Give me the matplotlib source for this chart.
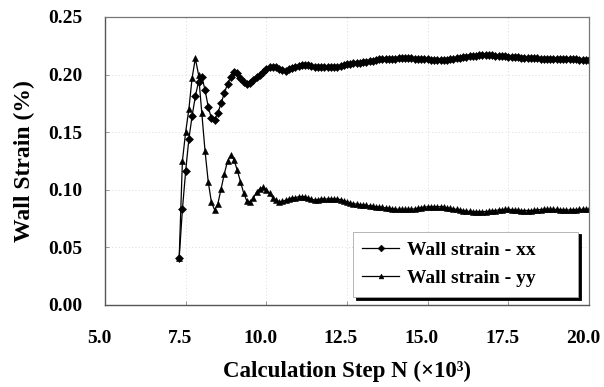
import numpy as np
import matplotlib
matplotlib.use("Agg")
import matplotlib.pyplot as plt
import matplotlib.transforms as mtransforms

# Calculation steps (thousands), one sample every 100 steps
steps = np.round(np.arange(7.3, 20.05, 0.1), 1)

strain_xx = [
    0.041, 0.083, 0.116, 0.144, 0.164, 0.181, 0.194, 0.198, 0.187, 0.172,   # 7.3 - 8.2
    0.162, 0.161, 0.167, 0.175, 0.184, 0.192, 0.198, 0.2025, 0.201, 0.197,  # 8.3 - 9.2
    0.194, 0.192, 0.1925, 0.195, 0.198, 0.200, 0.202, 0.205, 0.2068, 0.207, # 9.3 - 10.2
    0.2062, 0.205, 0.204, 0.2035, 0.2045, 0.206, 0.207, 0.2078, 0.2082, 0.2085,  # 10.3 - 11.2
    0.2083, 0.2078, 0.207, 0.2064, 0.2063, 0.2063, 0.2064, 0.2064, 0.2066, 0.207,  # 11.3 - 12.2
    0.2076, 0.2083, 0.209, 0.2094, 0.2098, 0.2101, 0.2104, 0.2108, 0.2112, 0.2117,  # 12.3 - 13.2
    0.2122, 0.2127, 0.2131, 0.2133, 0.2135, 0.2137, 0.2138, 0.2139, 0.214, 0.2141,  # 13.3 - 14.2
    0.2141, 0.2141, 0.214, 0.2138, 0.2137, 0.2135, 0.2134, 0.2132, 0.213, 0.2128,   # 14.3 - 15.2
    0.2127, 0.2127, 0.2128, 0.213, 0.2133, 0.2137, 0.214, 0.2145, 0.215, 0.2155,    # 15.3 - 16.2
    0.2159, 0.2162, 0.2165, 0.2168, 0.217, 0.217, 0.2169, 0.2167, 0.2165, 0.2163,   # 16.3 - 17.2
    0.2161, 0.2158, 0.2156, 0.2153, 0.2151, 0.215, 0.2148, 0.2146, 0.2144, 0.2142,  # 17.3 - 18.2
    0.2141, 0.214, 0.2139, 0.2138, 0.2137, 0.2136, 0.2135, 0.2135, 0.2134, 0.2134,  # 18.3 - 19.2
    0.2133, 0.2133, 0.2132, 0.2131, 0.213, 0.2129, 0.2128, 0.2128, 0.2127,          # 19.3 - 20.1
]

strain_yy = [
    0.041, 0.125, 0.150, 0.170, 0.197, 0.214, 0.200, 0.167, 0.134, 0.107,   # 7.3 - 8.2
    0.089, 0.0825, 0.088, 0.101, 0.114, 0.125, 0.130, 0.126, 0.117, 0.107,  # 8.3 - 9.2
    0.097, 0.090, 0.089, 0.093, 0.098, 0.101, 0.102, 0.100, 0.097, 0.093,   # 9.3 - 10.2
    0.091, 0.0895, 0.090, 0.091, 0.092, 0.093, 0.093, 0.094, 0.094, 0.094,  # 10.3 - 11.2
    0.093, 0.092, 0.091, 0.0915, 0.092, 0.092, 0.092, 0.092, 0.092, 0.092,  # 11.3 - 12.2
    0.0915, 0.0905, 0.0895, 0.0885, 0.088, 0.0875, 0.087, 0.087, 0.0865, 0.086,  # 12.3 - 13.2
    0.0858, 0.0853, 0.085, 0.0847, 0.0843, 0.084, 0.0836, 0.0833, 0.083, 0.083,  # 13.3 - 14.2
    0.083, 0.083, 0.083, 0.0835, 0.084, 0.0845, 0.085, 0.0852, 0.0853, 0.0853,   # 14.3 - 15.2
    0.0853, 0.0853, 0.085, 0.0845, 0.084, 0.0835, 0.083, 0.0825, 0.082, 0.0816,  # 15.3 - 16.2
    0.0813, 0.0811, 0.081, 0.081, 0.081, 0.0811, 0.0813, 0.0816, 0.082, 0.0825,  # 16.3 - 17.2
    0.0828, 0.083, 0.083, 0.0828, 0.0825, 0.0822, 0.082, 0.082, 0.082, 0.082,    # 17.3 - 18.2
    0.0822, 0.0825, 0.0828, 0.083, 0.083, 0.083, 0.083, 0.083, 0.0828, 0.0826,   # 18.3 - 19.2
    0.0825, 0.0825, 0.0826, 0.0828, 0.083, 0.083, 0.083, 0.083, 0.083,           # 19.3 - 20.1
]

n = min(len(steps), len(strain_xx), len(strain_yy))
steps = steps[:n]
strain_xx = strain_xx[:n]
strain_yy = strain_yy[:n]

x_ticks = [5.0, 7.5, 10.0, 12.5, 15.0, 17.5, 20.0]
y_ticks = [0.00, 0.05, 0.10, 0.15, 0.20, 0.25]

plt.rcParams["font.family"] = ["Liberation Serif", "DejaVu Serif"]
plt.rcParams["font.weight"] = "bold"

fig = plt.figure(figsize=(6.04, 3.87), dpi=100)
ax = fig.add_axes([0.1738, 0.2119, 0.8013, 0.7442])

ax.plot(steps, strain_xx, color="black", linewidth=0.9, marker="D",
        markersize=4.3, markeredgewidth=0.4, label="Wall strain - xx")
ax.plot(steps, strain_yy, color="black", linewidth=0.9, marker="^",
        markersize=4.3, markeredgewidth=0.4, label="Wall strain - yy")

ax.set_xlim(5.0, 20.0)
ax.set_ylim(0.0, 0.25)
ax.set_xticks(x_ticks)
ax.set_xticklabels([f"{v:.1f}" for v in x_ticks])
ax.set_yticks(y_ticks)
ax.set_yticklabels([f"{v:.2f}" for v in y_ticks])
ax.tick_params(axis="both", direction="in", length=3, width=0.6,
               color="#888888", labelsize=14)
ax.tick_params(axis="x", pad=18)
ax.tick_params(axis="y", pad=16)
for lbl in ax.get_xticklabels() + ax.get_yticklabels():
    lbl.set_fontweight("bold")

# nudge the step labels slightly left of their ticks
shift = mtransforms.ScaledTranslation(-6 / 100, 0, fig.dpi_scale_trans)
for lbl in ax.get_xticklabels():
    lbl.set_transform(lbl.get_transform() + shift)

ax.grid(True, color="#d0d0d0", linestyle=(0, (1, 3)), linewidth=0.6)
ax.set_axisbelow(True)

for side in ["top", "right"]:
    ax.spines[side].set_color("#777777")
    ax.spines[side].set_linewidth(0.9)
for side in ["left", "bottom"]:
    ax.spines[side].set_color("#555555")
    ax.spines[side].set_linewidth(1.0)

ax.set_ylabel("Wall Strain (%)", fontsize=17, fontweight="bold", labelpad=10)
ax.set_xlabel("Calculation Step N (×10³)", fontsize=16.5, fontweight="bold", labelpad=10)

leg = ax.legend(loc="lower left", bbox_to_anchor=(0.512, 0.028, 0.465, 0.24),
                mode="expand", borderaxespad=0, fancybox=False, framealpha=1,
                edgecolor="#aaaaaa", shadow={"color": "black", "alpha": 1.0},
                prop={"family": "Liberation Serif", "weight": "bold", "size": 14},
                handlelength=1.9, handletextpad=0.4, labelspacing=0.55,
                borderpad=0.5, markerscale=0.8)
leg.get_frame().set_linewidth(0.6)

fig.savefig("out.png", dpi=100)
